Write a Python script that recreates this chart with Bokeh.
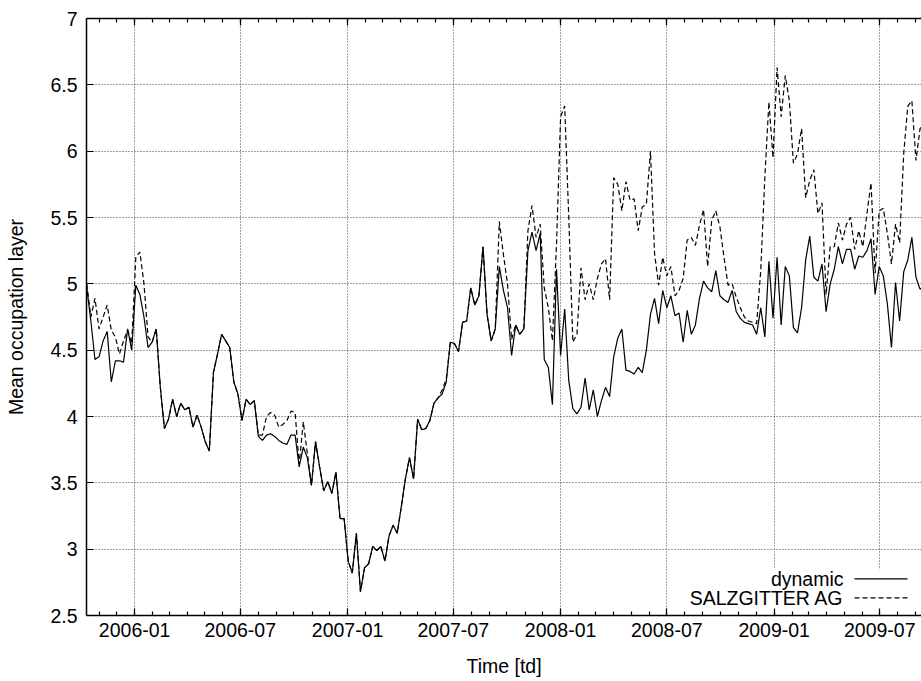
import pandas as pd
from bokeh.plotting import figure
from bokeh.models import (DatetimeAxis, FixedTicker, DatetimeTickFormatter,
                          CustomJSTickFormatter, CustomLabelingPolicy, Label,
                          Arrow, BoxAnnotation, Range1d)
from bokeh.embed import file_html
from bokeh.resources import INLINE

# weekly samples, first one on this date
first_week = "2005-10-11"

dynamic = [
    4.97, 4.72, 4.43, 4.45, 4.57, 4.64, 4.26, 4.42, 4.42, 4.41,
    4.66, 4.50, 4.99, 4.92, 4.75, 4.52, 4.56, 4.66, 4.22, 3.91,
    3.98, 4.13, 4.00, 4.10, 4.05, 4.07, 3.92, 4.01, 3.92, 3.81,
    3.74, 4.33, 4.47, 4.62, 4.57, 4.52, 4.26, 4.17, 3.97, 4.13,
    4.09, 4.12, 3.85, 3.82, 3.86, 3.87, 3.85, 3.82, 3.80, 3.79,
    3.86, 3.86, 3.62, 3.77, 3.69, 3.48, 3.81, 3.62, 3.44, 3.51,
    3.42, 3.58, 3.23, 3.23, 2.91, 2.82, 3.12, 2.68, 2.86, 2.89,
    3.02, 2.99, 3.02, 2.91, 3.10, 3.18, 3.12, 3.32, 3.53, 3.69,
    3.53, 3.98, 3.90, 3.91, 3.97, 4.10, 4.14, 4.17, 4.26, 4.56,
    4.55, 4.49, 4.71, 4.72, 4.97, 4.84, 4.91, 5.28, 4.77, 4.57,
    4.66, 5.13, 4.95, 4.82, 4.46, 4.69, 4.62, 4.66, 5.25, 5.39,
    5.25, 5.38, 4.43, 4.37, 4.09, 5.11, 4.46, 4.81, 4.27, 4.06,
    4.02, 4.07, 4.29, 4.05, 4.20, 4.00, 4.12, 4.22, 4.15, 4.45,
    4.59, 4.66, 4.35, 4.34, 4.32, 4.37, 4.33, 4.50, 4.77, 4.89,
    4.70, 4.95, 4.82, 4.91, 4.76, 4.78, 4.56, 4.80, 4.62, 4.69,
    4.89, 5.02, 4.97, 4.94, 5.10, 4.91, 4.88, 4.86, 4.95, 4.79,
    4.74, 4.71, 4.70, 4.69, 4.62, 4.82, 4.60, 5.17, 4.74, 5.20,
    4.69, 5.13, 5.06, 4.67, 4.63, 4.82, 5.18, 5.36, 5.05, 5.02,
    5.15, 4.79, 5.00, 5.11, 5.28, 5.15, 5.26, 5.26, 5.11, 5.21,
    5.20, 5.25, 5.34, 4.92, 5.13, 5.06, 4.85, 4.52, 5.01, 4.72,
    5.09, 5.18, 5.35, 5.05, 4.96, 4.98,
]

salzgitter = [
    5.00, 4.75, 4.89, 4.66, 4.75, 4.84, 4.65, 4.60, 4.47, 4.57,
    4.65, 4.55, 5.20, 5.24, 5.00, 4.60, 4.56, 4.66, 4.22, 3.91,
    3.98, 4.13, 4.00, 4.10, 4.05, 4.07, 3.92, 4.01, 3.92, 3.81,
    3.74, 4.33, 4.47, 4.62, 4.57, 4.52, 4.26, 4.17, 3.97, 4.13,
    4.09, 4.12, 3.86, 3.86, 4.00, 4.03, 4.01, 3.92, 3.94, 3.97,
    4.04, 4.03, 3.64, 3.96, 3.72, 3.48, 3.81, 3.62, 3.44, 3.51,
    3.42, 3.58, 3.23, 3.23, 2.91, 2.82, 3.12, 2.68, 2.86, 2.89,
    3.02, 2.99, 3.02, 2.91, 3.10, 3.18, 3.12, 3.32, 3.53, 3.69,
    3.53, 3.98, 3.90, 3.91, 3.97, 4.10, 4.14, 4.20, 4.28, 4.56,
    4.55, 4.49, 4.71, 4.72, 4.97, 4.84, 4.91, 5.28, 4.77, 4.57,
    4.66, 5.47, 5.22, 5.00, 4.58, 4.69, 4.62, 4.66, 5.40, 5.59,
    5.35, 5.45, 4.97, 4.82, 4.57, 5.30, 6.26, 6.34, 5.50, 4.56,
    4.62, 5.12, 4.88, 5.00, 4.88, 5.04, 5.15, 5.19, 4.88, 5.80,
    5.75, 5.55, 5.77, 5.63, 5.64, 5.40, 5.58, 5.60, 6.00, 5.23,
    4.99, 5.20, 5.06, 5.13, 4.91, 4.95, 5.04, 5.33, 5.35, 5.29,
    5.44, 5.56, 5.13, 5.48, 5.55, 5.43, 5.20, 4.99, 5.00, 4.90,
    4.82, 4.75, 4.72, 4.71, 4.70, 5.10, 5.80, 6.37, 5.95, 6.63,
    6.26, 6.57, 6.38, 5.91, 5.98, 6.17, 5.65, 5.78, 5.86, 5.53,
    5.61, 4.92, 5.28, 5.28, 5.46, 5.33, 5.45, 5.50, 5.26, 5.40,
    5.28, 5.53, 5.76, 5.08, 5.55, 5.57, 5.38, 5.15, 5.45, 5.31,
    5.98, 6.34, 6.38, 5.93, 6.17, 6.20,
]

x_major_dates = ["2006-01-01", "2006-07-01", "2007-01-01", "2007-07-01",
                 "2008-01-01", "2008-07-01", "2009-01-01", "2009-07-01"]
y_ticks = [2.5, 3, 3.5, 4, 4.5, 5, 5.5, 6, 6.5, 7]
series_names = ["dynamic", "SALZGITTER AG"]

FONT = "Liberation Sans"
FS = "19.5px"


def ms(d):
    return pd.Timestamp(d).value // 10**6


weeks = pd.date_range(first_week, periods=len(dynamic), freq="7D")
x_start = pd.Timestamp("2005-10-10 12:00")
x_end = x_start + pd.Timedelta(days=1431)

major_ms = [ms(d) for d in x_major_dates]
minor_ms = [ms(d) for d in pd.date_range("2005-11-01", "2009-09-01", freq="MS")]
x_ticker = FixedTicker(ticks=major_ms, minor_ticks=minor_ms)
x_fmt = DatetimeTickFormatter(
    years="%Y-%m", months="%Y-%m", days="%Y-%m", hours="%Y-%m",
    minutes="%Y-%m", seconds="%Y-%m", milliseconds="%Y-%m",
    microseconds="%Y-%m", hourmin="%Y-%m", minsec="%Y-%m", context=None)

p = figure(width=921, height=681, x_axis_type="datetime",
           x_range=Range1d(ms(x_start), ms(x_end)), y_range=Range1d(2.5, 7),
           output_backend="svg", toolbar_location=None,
           min_border_left=86, min_border_right=0,
           min_border_top=18, min_border_bottom=66)
p.title.visible = False
p.outline_line_color = None
p.background_fill_color = "white"
p.border_fill_color = "white"

# grid: dotted, at the major ticks only
for g in (p.xgrid, p.ygrid):
    g.grid_line_color = "#404040"
    g.grid_line_dash = "1 2"
    g.grid_line_width = 1
p.xgrid.ticker = x_ticker
p.ygrid.ticker = FixedTicker(ticks=y_ticks)


def style_axis(ax):
    ax.axis_line_color = "black"
    ax.axis_line_width = 1.5
    ax.major_tick_line_color = "black"
    ax.major_tick_line_width = 1.2
    ax.minor_tick_line_color = "black"
    ax.minor_tick_line_width = 1.2
    ax.major_tick_in = 7
    ax.major_tick_out = 0
    ax.minor_tick_in = 4
    ax.minor_tick_out = 0
    ax.major_label_text_font = FONT
    ax.major_label_text_font_size = FS
    ax.major_label_text_color = "black"
    ax.axis_label_text_font = FONT
    ax.axis_label_text_font_size = FS
    ax.axis_label_text_font_style = "normal"
    ax.axis_label_text_color = "black"


xb = p.xaxis[0]
style_axis(xb)
xb.ticker = x_ticker
xb.formatter = x_fmt
xb.axis_label = "Time [td]"
xb.major_label_standoff = 7
xb.axis_label_standoff = 15

yl = p.yaxis[0]
style_axis(yl)
yl.ticker = FixedTicker(ticks=y_ticks)
yl.formatter = CustomJSTickFormatter(code="return String(tick);")
yl.axis_label = "Mean occupation layer"
yl.major_label_standoff = 9
yl.axis_label_standoff = 20

# mirrored ticks along the top border, without labels
top = DatetimeAxis(ticker=x_ticker, formatter=x_fmt)
style_axis(top)
top.major_label_standoff = 0
top.major_label_policy = CustomLabelingPolicy(code="""
    const n = indices.size
    for (let i = 0; i < n; i++) { indices.unset(i) }
    return indices
""")
p.add_layout(top, "above")

p.line(weeks, dynamic, line_color="black", line_width=1.2)
p.line(weeks, salzgitter, line_color="black", line_width=1.2, line_dash="5 3")

# key in the lower right corner: label text, then a line sample
p.add_layout(BoxAnnotation(left=604, right=840, bottom=3, top=46,
                           left_units="screen", right_units="screen",
                           bottom_units="screen", top_units="screen",
                           fill_color="white", fill_alpha=1, line_color=None,
                           level="underlay"))
key_rows = [(36.7, None), (17.7, "5 3")]
for name, (ky, dash) in zip(series_names, key_rows):
    p.add_layout(Label(x=757, y=ky, x_units="screen", y_units="screen",
                       text=name, text_align="right", text_baseline="middle",
                       text_font=FONT, text_font_size=FS, text_color="black"))
    arr = Arrow(x_start=768, y_start=ky, x_end=821, y_end=ky,
                start_units="screen", end_units="screen", end=None,
                line_color="black", line_width=1.2)
    if dash:
        arr.line_dash = dash
    p.add_layout(arr)

open("out.html", "w").write(file_html(p, INLINE))
